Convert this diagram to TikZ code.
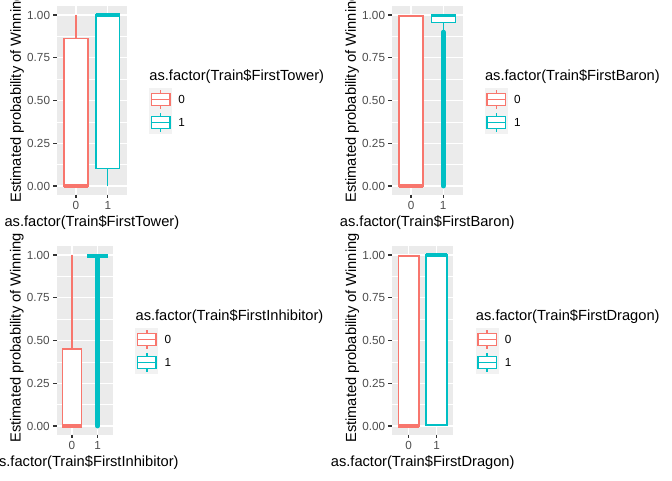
\documentclass[tikz,border=0pt]{standalone}
\usepackage{fontspec}
\setmainfont{Liberation Sans}
\definecolor{ggred}{HTML}{F8766D}
\definecolor{ggcyan}{HTML}{00BFC4}
\definecolor{panelbg}{HTML}{EBEBEB}
\definecolor{keybg}{HTML}{F2F2F2}
\definecolor{ticklab}{HTML}{4D4D4D}
\definecolor{tickcol}{HTML}{333333}
\tikzset{
  majorgrid/.style={white, line width=1.07pt},
  minorgrid/.style={white, line width=0.53pt},
  boxline/.style={line width=1.07pt},
  medline/.style={line width=2.4pt},
  outlier/.style={line width=3.6pt, line cap=round},
  ticklabel/.style={font=\fontsize{8.8}{10}\selectfont, text=ticklab, inner sep=0pt},
  axtitle/.style={font=\fontsize{11}{13}\selectfont, inner sep=0pt},
  legtext/.style={font=\fontsize{8.8}{10}\selectfont, inner sep=0pt},
  tickmark/.style={tickcol, line width=1.07pt},
}
% box: #1 xc, #2 half width, #3 lo, #4 q1, #5 med, #6 q3, #7 hi, #8 colour
\newcommand\ggbox[8]{%
  \draw[#8,boxline] (#1,#3) -- (#1,#4) (#1,#6) -- (#1,#7);
  \draw[#8,boxline,fill=white] ({#1-#2},#4) rectangle ({#1+#2},#6);
  \draw[#8,medline] ({#1-#2},#5) -- ({#1+#2},#5);
}
% legend key: #1 left x, #2 top y (px, y down), #3 colour
\newcommand\ggkey[3]{%
  \draw[#3,boxline] ({#1+11.5},{#2+2.3}) -- ({#1+11.5},{#2+5.75})
                    ({#1+11.5},{#2+17.25}) -- ({#1+11.5},{#2+20.7});
  \draw[#3,boxline,fill=white] ({#1+2.3},{#2+5.75}) rectangle ({#1+20.7},{#2+17.25});
  \draw[#3,boxline] ({#1+2.3},{#2+11.5}) -- ({#1+20.7},{#2+11.5});
}
% panel: #1 row offset, #2 panel left, #3 category spacing, #4 variable, #5 data
\newcommand\ggpanel[5]{%
\begin{scope}[shift={(#2,#1)}]
  \pgfmathsetmacro\pw{2.2*#3}
  \pgfmathsetmacro\ca{0.6*#3}
  \pgfmathsetmacro\cb{1.6*#3}
  \pgfmathsetmacro\hw{0.375*#3}
  \pgfmathsetmacro\lk{\pw+22.3}
  \begin{scope}[shift={(0,186)}, y=128.25pt]
    \fill[panelbg] (0,-0.05) rectangle (\pw,1.05);
    \foreach \v in {0.125,0.375,0.625,0.875} \draw[minorgrid] (0,\v) -- (\pw,\v);
    \foreach \v in {0,0.25,0.5,0.75,1} \draw[majorgrid] (0,\v) -- (\pw,\v);
    \draw[majorgrid] (\ca,-0.05) -- (\ca,1.05) (\cb,-0.05) -- (\cb,1.05);
    \foreach \v/\lab [count=\i] in {0/0.00,0.25/0.25,0.5/0.50,0.75/0.75,1/1.00} {
      \draw[tickmark] (-3.67,\v) -- (0,\v);
      \node[ticklabel, anchor=east] (yl-#4-\i) at (-6.6,\v) {\lab};
    }
    \draw[tickmark] (\ca,-0.05) -- (\ca,-0.0715) (\cb,-0.05) -- (\cb,-0.0715);
    \node[ticklabel, anchor=north] (xa-#4) at (\ca,-0.0886) {0};
    \node[ticklabel, anchor=north] (xb-#4) at (\cb,-0.0886) {1};
    #5
    \node[axtitle, anchor=base] (xt-#4) at ({1.1*#3},-0.2339) {as.factor(Train\$First#4)};
    \node[axtitle, anchor=base, rotate=90] (yt-#4) at (-36,0.5146) {Estimated probability of Winning};
  \end{scope}
  \node[axtitle, anchor=base west] (lt-#4) at (\lk,80.7) {as.factor(Train\$First#4)};
  \fill[keybg] (\lk,88) rectangle ({\lk+23},134);
  \ggkey{\lk}{88}{ggred}
  \ggkey{\lk}{111}{ggcyan}
  \node[legtext, anchor=west] (la-#4) at ({\lk+29},99.5) {0};
  \node[legtext, anchor=west] (lb-#4) at ({\lk+29},122.5) {1};
\end{scope}}

\begin{document}
\begin{tikzpicture}[x=0.75pt, y=-0.75pt]
\useasboundingbox (0,0) rectangle (672,480);
\ggpanel{0}{56.9}{31.8}{Tower}{%
  \ggbox{\ca}{\hw}{0}{0}{0}{0.864}{1}{ggred}
  \ggbox{\cb}{\hw}{0}{0.103}{1}{1}{1}{ggcyan}
}
\ggpanel{0}{391.9}{32.1}{Baron}{%
  \draw[ggcyan,outlier] (\cb,0) -- (\cb,0.9);
  \ggbox{\ca}{\hw}{0}{0}{0}{0.994}{1}{ggred}
  \ggbox{\cb}{\hw}{0.902}{0.957}{0.997}{1}{1}{ggcyan}
}
\ggpanel{240}{56.5}{25.7}{Inhibitor}{%
  \draw[ggcyan,outlier] (\cb,0) -- (\cb,0.98);
  \ggbox{\ca}{\hw}{0}{0}{0}{0.45}{1}{ggred}
  \ggbox{\cb}{\hw}{0.985}{0.989}{0.999}{1}{1}{ggcyan}
}
\ggpanel{240}{392}{27.9}{Dragon}{%
  \ggbox{\ca}{\hw}{0}{0}{0}{0.994}{1}{ggred}
  \ggbox{\cb}{\hw}{0}{0.006}{1}{1}{1}{ggcyan}
}
\end{tikzpicture}
\end{document}
